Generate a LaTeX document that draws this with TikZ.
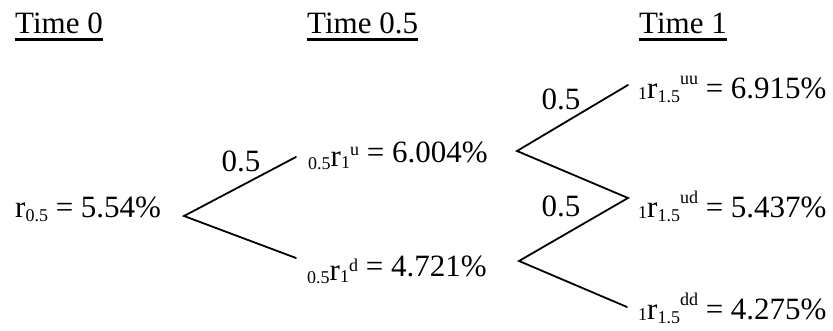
\documentclass[tikz,border=0pt]{standalone}
\usepackage{fontspec}
\setmainfont{Liberation Serif}
\newcommand{\scr}[1]{{\fontsize{18}{18}\selectfont #1}}
\newcommand{\lo}[2]{\raisebox{-#1pt}{\scr{#2}}}
\newcommand{\hi}[2]{\raisebox{#1pt}{\scr{#2}}}
\begin{document}
\begin{tikzpicture}[x=1pt,y=1pt,
  txt/.style={inner sep=0pt, anchor=base west, font=\fontsize{31}{31}\selectfont},
  prob/.style={inner sep=0pt, anchor=base, font=\fontsize{31}{31}\selectfont},
  branch/.style={line width=1.8pt, line cap=round, line join=miter},
  uline/.style={line width=3pt}]
\useasboundingbox (0,0) rectangle (833,331);
% titles
\node[txt] (t0) at (15,297) {Time 0};
\node[txt] (t1) at (307,297) {Time 0.5};
\node[txt] (t2) at (639,297) {Time 1};
\foreach \t in {t0,t1,t2}
  \draw[uline] ([yshift=-6pt]\t.base west) -- ([yshift=-6pt]\t.base east);
% rate nodes
\node[txt] (root) at (15,113) {r\lo{4}{0.5} = 5.54\%};
\node[txt] (mu) at (308,168) {\lo{7}{0.5}\raisebox{-4pt}{r}\lo{6}{1}\hi{7}{u} = 6.004\%};
\node[txt] (md) at (307,54) {\lo{7}{0.5}\raisebox{-4pt}{r}\lo{6}{1}\hi{5}{d} = 4.721\%};
\node[txt] (uu) at (638,232) {\lo{1}{1}r\lo{4}{1.5}\hi{14}{uu} = 6.915\%};
\node[txt] (ud) at (638,113) {\lo{1}{1}r\lo{4}{1.5}\hi{14}{ud} = 5.437\%};
\node[txt] (dd) at (638,11) {\lo{1}{1}r\lo{4}{1.5}\hi{14}{dd} = 4.275\%};
% branch points
\coordinate (rootR) at (184,115);
\coordinate (upL) at (296,174);
\coordinate (dnL) at (296,73);
\coordinate (upR) at (517,180);
\coordinate (dnR) at (519,70);
\coordinate (uuL) at (628,246);
\coordinate (udL) at (628,133);
\coordinate (ddL) at (627,24);
\draw[branch] (upL) -- (rootR) -- (dnL);
\draw[branch] (uuL) -- (upR) -- (udL) -- (dnR) -- (ddL);
% probabilities
\node[prob] (p1) at (241,159) {0.5};
\node[prob] (p2) at (561,221) {0.5};
\node[prob] (p3) at (561,114) {0.5};
\end{tikzpicture}
\end{document}
